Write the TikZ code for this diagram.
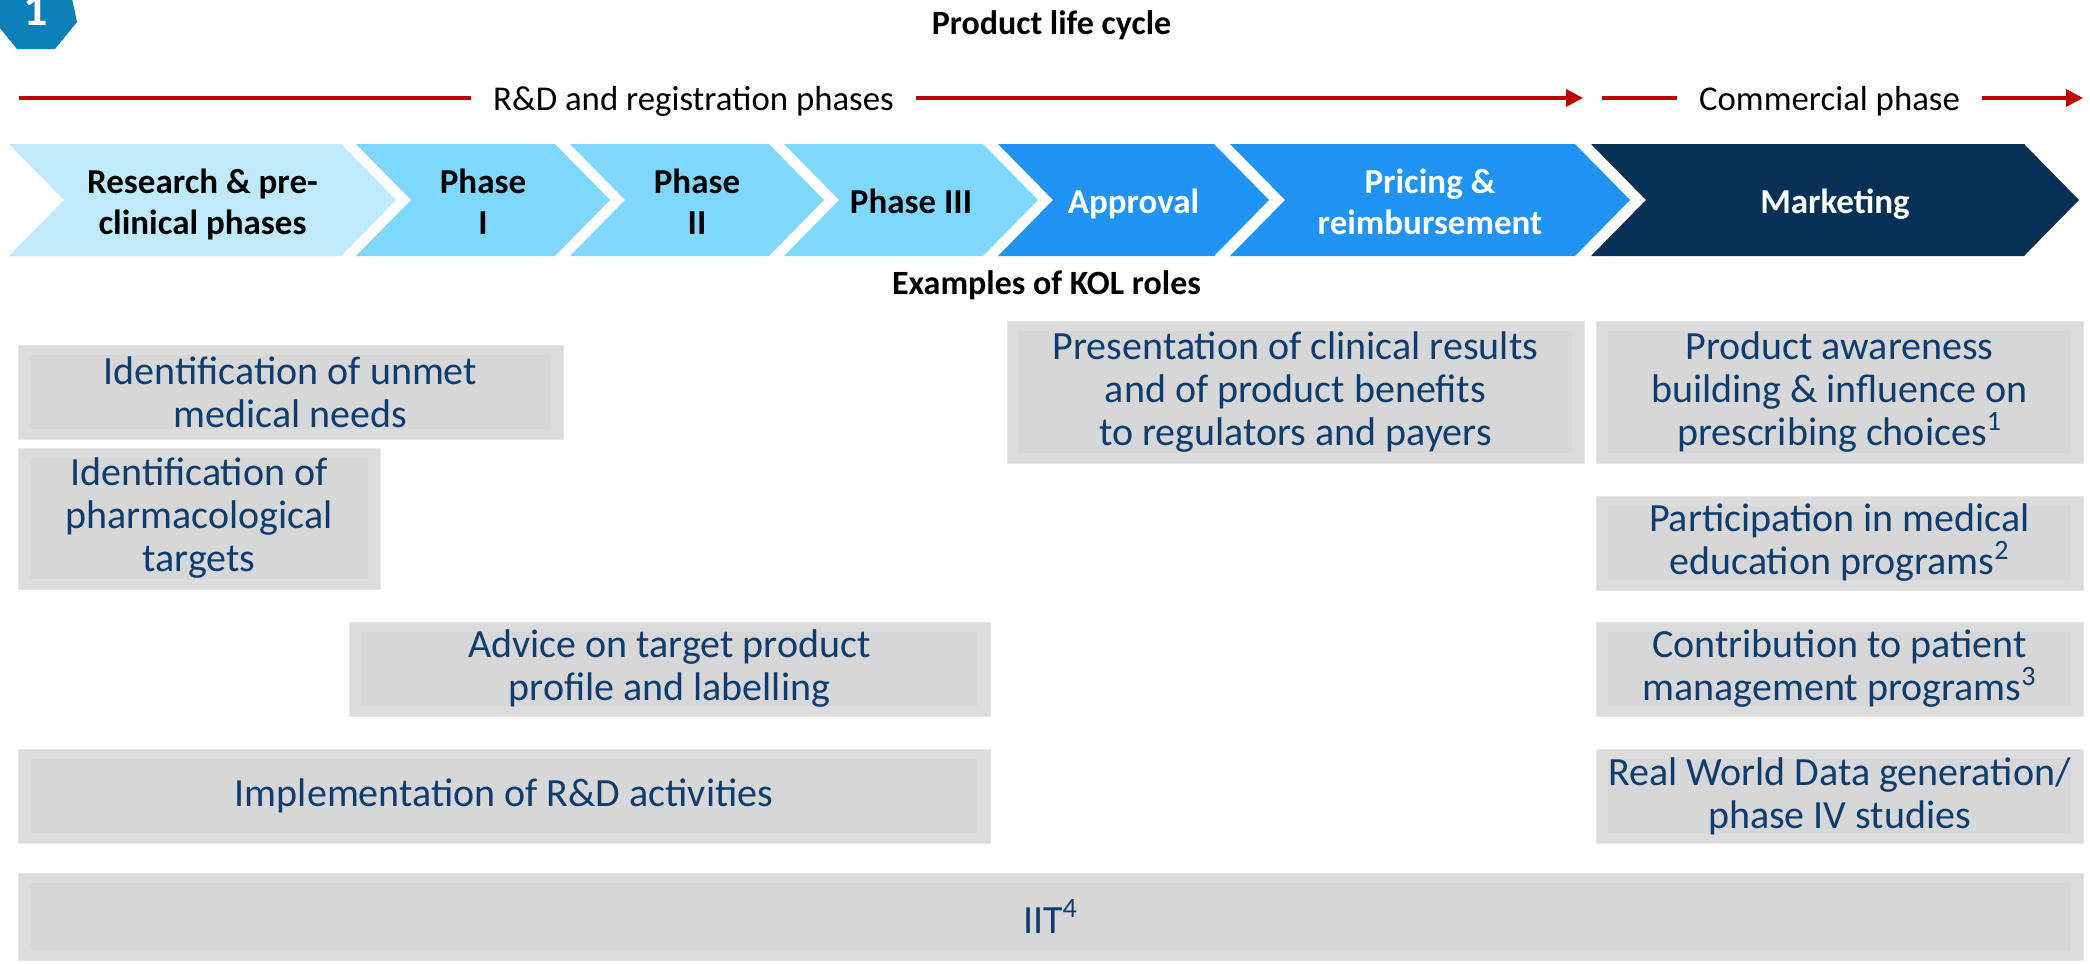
\documentclass[tikz,border=0pt]{standalone}
\usepackage{fontspec}
\setmainfont{Carlito}
\usetikzlibrary{arrows.meta, positioning, calc}
\definecolor{PaleCyan}{RGB}{190,234,252}
\definecolor{SkyCyan}{RGB}{128,215,252}
\definecolor{BrightBlue}{RGB}{33,148,243}
\definecolor{DeepNavy}{RGB}{7,48,86}
\definecolor{PhaseRed}{RGB}{192,0,0}
\definecolor{BadgeBlue}{RGB}{10,128,182}
\definecolor{RoleBlue}{RGB}{12,60,112}
\definecolor{BoxGray}{RGB}{220,220,220}
\definecolor{BoxInner}{RGB}{215,215,215}
\definecolor{BoxEdge}{RGB}{230,230,230}

\begin{document}
\begin{tikzpicture}[x=0.5pt, y=-0.5pt,
  role/.style={fill=BoxGray, draw=BoxEdge, line width=0.5pt, text=RoleBlue,
               font=\fontsize{20}{21.5}\selectfont, align=center, inner sep=0pt,
               path picture={\fill[BoxInner]
                 ([shift={(6pt,-5pt)}]path picture bounding box.north west) rectangle
                 ([shift={(-6pt,5pt)}]path picture bounding box.south east);}},
  chevlabel/.style={font=\fontsize{17.5}{20.5}\selectfont\bfseries, align=center,
                    text depth=0.22em},
  phase/.style={font=\fontsize{17.4}{20}\selectfont, inner xsep=11pt, anchor=base},
  heading/.style={font=\fontsize{17}{20}\selectfont\bfseries, anchor=base},
  redline/.style={PhaseRed, line width=1.65pt},
  redarr/.style={redline, -{Triangle[length=8.5pt, width=8.5pt]}},
]
\useasboundingbox (0,0) rectangle (2090,964);

% Badge
\fill[BadgeBlue] (-5,22) -- (17,49) -- (55,49) -- (77,22) -- (71,-6) -- (0,-6) -- cycle;
\node[font=\fontsize{24}{24}\selectfont\bfseries, text=white, anchor=base] (badge) at (36,25) {1};

\node[heading] (cycle) at (1051.5,34) {Product life cycle};

% Phase arrows
\node[phase] (rdtxt) at (693.5,110) {R\&D and registration phases};
\coordinate (rdL) at (19,98);
\coordinate (rdR) at (1583,98);
\draw[redline] (rdL) -- (rdL -| rdtxt.west);
\draw[redarr] (rdtxt.east |- rdR) -- (rdR);

\node[phase] (comtxt) at (1829.5,110) {Commercial phase};
\coordinate (comL) at (1602,98);
\coordinate (comR) at (2083,98);
\draw[redline] (comL) -- (comL -| comtxt.west);
\draw[redarr] (comtxt.east |- comR) -- (comR);

% Chevrons
\foreach \l/\r/\fc/\tc/\nm/\txt in {
  9/341/PaleCyan/black/research/{Research \& pre-\\clinical phases},
  356/555/SkyCyan/black/phaseone/{Phase\\I},
  570/769/SkyCyan/black/phasetwo/{Phase\\II},
  784/983/SkyCyan/black/phasethree/{Phase III},
  998/1214/BrightBlue/white/approval/{Approval},
  1230/1575/BrightBlue/white/pricing/{Pricing \&\\reimbursement},
  1591/2024/DeepNavy/white/marketing/{Marketing}}
{
  \fill[\fc] (\l,144) -- (\r,144) -- ++(55,56) -- (\r,256) -- (\l,256) -- ++(55,-56) -- cycle;
  \node[chevlabel, text=\tc] (\nm) at ({(\l+\r+55)/2},203.5) {\txt};
}

\node[heading] (kol) at (1046.5,294) {Examples of KOL roles};

% KOL roles
\node[role, minimum width=272.5pt, minimum height=47pt] (unmet) at (290.5,392)
  {Identification of unmet\\medical needs};
\node[role, minimum width=181pt, minimum height=70.5pt] (targets) at (199,518.5)
  {Identification of\\pharmacological\\targets};
\node[role, minimum width=288.5pt, minimum height=71pt] (present) at (1295.5,392)
  {Presentation of clinical results\\and of product benefits\\to regulators and payers};
\node[role, minimum width=243.5pt, minimum height=71pt] (aware) at (1839.5,392)
  {Product awareness\\building \& influence on\\prescribing choices\textsuperscript{1}};
\node[role, minimum width=243.5pt, minimum height=47pt] (educ) at (1839.5,543)
  {Participation in medical\\education programs\textsuperscript{2}};
\node[role, minimum width=320.5pt, minimum height=47pt] (advice) at (669.5,669)
  {Advice on target product\\profile and labelling};
\node[role, minimum width=243.5pt, minimum height=47pt] (patient) at (1839.5,669)
  {Contribution to patient\\management programs\textsuperscript{3}};
\node[role, minimum width=486pt, minimum height=47pt] (rnd) at (504,796)
  {Implementation of R\&D activities};
\node[role, minimum width=243.5pt, minimum height=47pt] (rwd) at (1839.5,796)
  {Real World Data generation/\\phase IV studies};
\node[role, minimum width=1032.5pt, minimum height=43.5pt] (iit) at (1050.5,916.5)
  {IIT\textsuperscript{4}};
\end{tikzpicture}
\end{document}
